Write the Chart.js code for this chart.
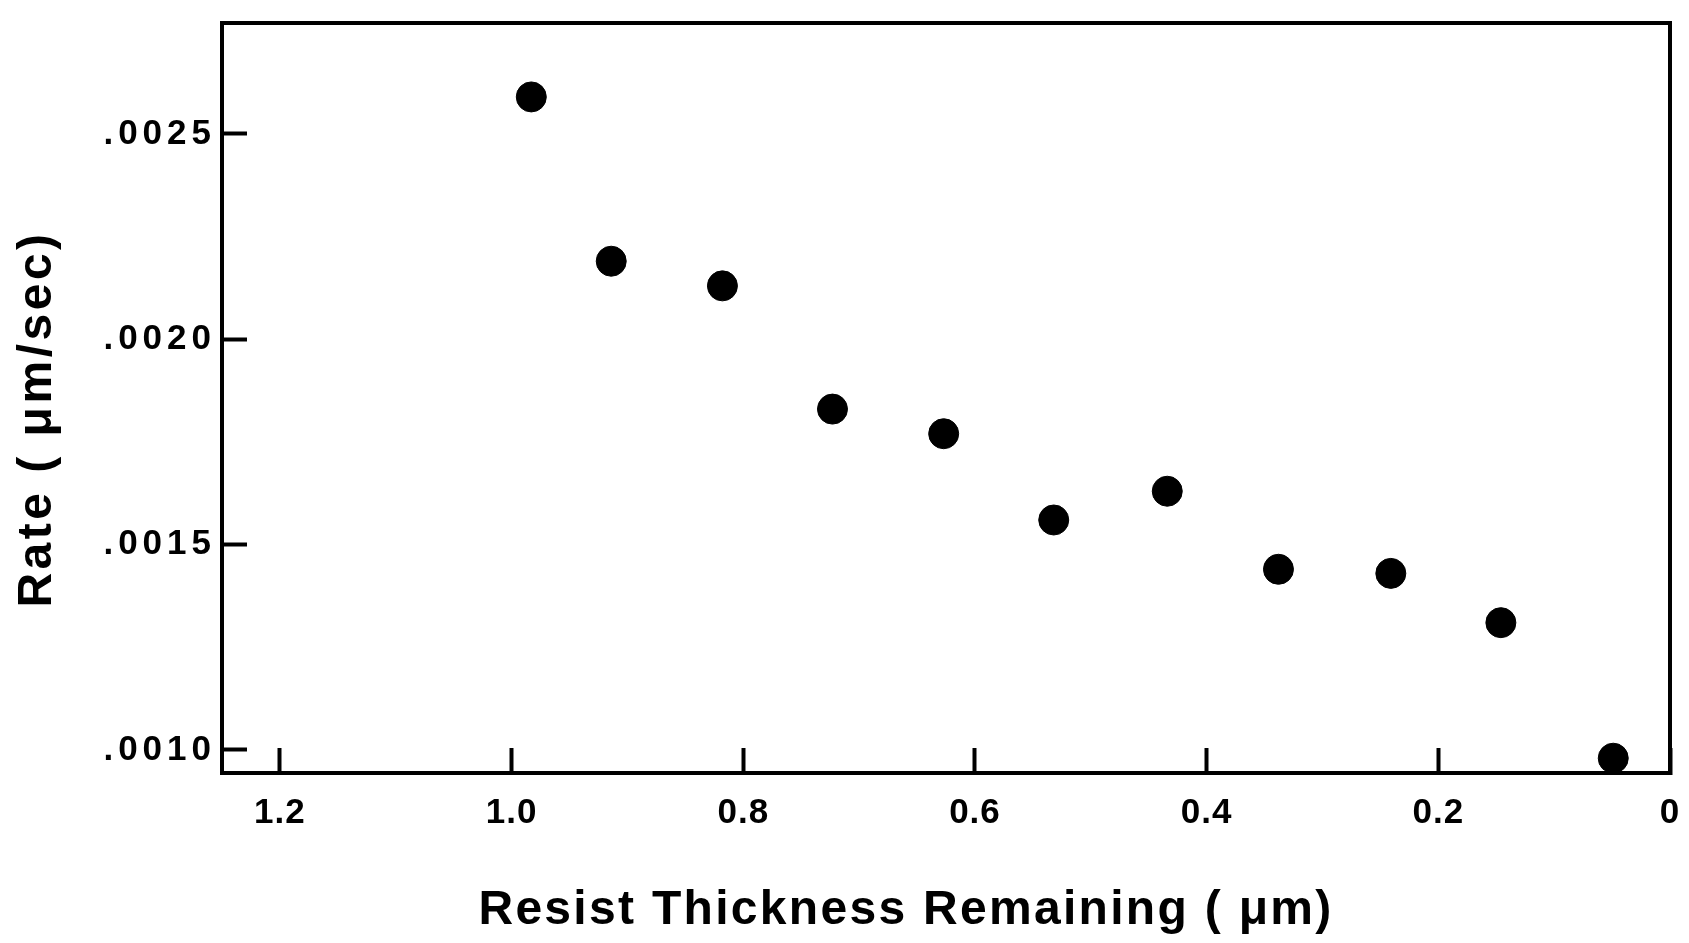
<!DOCTYPE html>
<html>
<head>
<meta charset="utf-8">
<script src="https://cdn.jsdelivr.net/npm/chart.js@4.4.1/dist/chart.umd.min.js"></script>
<style>
html,body{margin:0;padding:0;background:#fff;}
canvas{display:block;}
</style>
</head>
<body>
<canvas id="c" width="1689" height="943"></canvas>
<script>
// ---- data ----
const thickness = [0.983, 0.914, 0.818, 0.723, 0.627, 0.532, 0.434, 0.338, 0.241, 0.146, 0.049];
const rate      = [0.00259, 0.00219, 0.00213, 0.00183, 0.00177, 0.00156, 0.00163, 0.00144, 0.00143, 0.00131, 0.00098];
const xTicks = [0, 0.2, 0.4, 0.6, 0.8, 1.0, 1.2];
const yTicks = [0.0010, 0.0015, 0.0020, 0.0025];
const xTitle = 'Resist Thickness Remaining ( \u03BCm)';
const yTitle = 'Rate ( \u03BCm/sec)';

const FONT = '"Liberation Sans", Arial, sans-serif';

const points = thickness.map((t, i) => ({x: t, y: rate[i]}));

const titlePlugin = {
  id: 'titles',
  beforeDraw(chart) {
    chart.ctx.letterSpacing = '1px';
  },
  afterDraw(chart) {
    const ctx = chart.ctx;
    const a = chart.chartArea;
    ctx.save();
    ctx.fillStyle = '#000';
    ctx.font = 'bold 48px ' + FONT;
    ctx.letterSpacing = '2.3px';
    ctx.textAlign = 'center';
    ctx.textBaseline = 'middle';
    ctx.fillText(xTitle, (a.left + a.right) / 2 - 40, a.bottom + 138);
    ctx.letterSpacing = '3.5px';
    ctx.translate(a.left - 184, (a.top + a.bottom) / 2 + 21);
    ctx.rotate(-Math.PI / 2);
    ctx.fillText(yTitle, 0, 0);
    ctx.restore();
  }
};

const tickFont = {family: FONT, size: 35, weight: 'bold'};

function noPad(s) {
  s.paddingTop = 0; s.paddingBottom = 0; s.paddingLeft = 0; s.paddingRight = 0;
}

new Chart(document.getElementById('c'), {
  type: 'scatter',
  data: {
    datasets: [{
      data: points,
      backgroundColor: '#000',
      borderColor: '#000',
      pointRadius: 15,
      pointHoverRadius: 15
    }]
  },
  plugins: [titlePlugin],
  options: {
    responsive: false,
    devicePixelRatio: 1,
    animation: false,
    events: [],
    layout: {padding: {top: 23, right: 19, left: 0, bottom: 0}},
    plugins: {legend: {display: false}, tooltip: {enabled: false}},
    scales: {
      x: {
        type: 'linear',
        position: 'bottom',
        reverse: true,
        min: 0,
        max: 1.25,
        afterBuildTicks: s => { s.ticks = xTicks.map(v => ({value: v})); },
        afterFit: s => { s.height = 170; noPad(s); },
        grid: {drawOnChartArea: false, drawTicks: true, tickLength: -25, tickWidth: 4, tickColor: '#000'},
        border: {display: true, color: '#000', width: 4},
        ticks: {
          color: '#000', font: tickFont, padding: 44, maxRotation: 0, autoSkip: false,
          callback: v => v === 0 ? '0' : v.toFixed(1)
        }
      },
      y: {
        type: 'linear',
        position: 'left',
        min: 0.000944,
        max: 0.00277,
        afterBuildTicks: s => { s.ticks = yTicks.map(v => ({value: v})); },
        afterFit: s => {
          s.width = 222; noPad(s);
          if (!s.__wrapped) {
            s.__wrapped = true;
            const orig = s.drawLabels;
            s.drawLabels = function (area) {
              const c = this.ctx;
              const prev = c.letterSpacing;
              c.letterSpacing = '5px';
              orig.call(this, area);
              c.letterSpacing = prev;
            };
          }
        },
        grid: {drawOnChartArea: false, drawTicks: true, tickLength: -25, tickWidth: 4, tickColor: '#000'},
        border: {display: true, color: '#000', width: 4},
        ticks: {
          color: '#000', font: tickFont, padding: 31, autoSkip: false,
          callback: v => '.' + v.toFixed(4).slice(2)
        }
      },
      xTop: {
        type: 'linear', position: 'top', min: 0, max: 1.25,
        afterFit: s => { s.height = 0; noPad(s); },
        grid: {drawOnChartArea: false, drawTicks: false},
        border: {display: true, color: '#000', width: 4},
        ticks: {display: false}
      },
      yRight: {
        type: 'linear', position: 'right', min: 0.000944, max: 0.00277,
        afterFit: s => { s.width = 0; noPad(s); },
        grid: {drawOnChartArea: false, drawTicks: false},
        border: {display: true, color: '#000', width: 4},
        ticks: {display: false}
      }
    }
  }
});
</script>
</body>
</html>
